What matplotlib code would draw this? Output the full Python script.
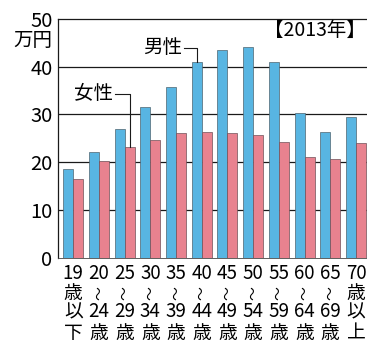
import matplotlib
matplotlib.use("Agg")
import matplotlib.pyplot as plt
import numpy as np

plt.rcParams['font.family'] = ['Noto Sans CJK JP', 'DejaVu Sans']

# Monthly wages by age group (10,000 yen), 2013
age_top = ['19', '20', '25', '30', '35', '40', '45', '50', '55', '60', '65', '70']
age_mid = ['歳', '〜', '〜', '〜', '〜', '〜', '〜', '〜', '〜', '〜', '〜', '歳']
age_low = ['以', '24', '29', '34', '39', '44', '49', '54', '59', '64', '69', '以']
age_end = ['下', '歳', '歳', '歳', '歳', '歳', '歳', '歳', '歳', '歳', '歳', '上']
male = [18.5, 22.1, 26.9, 31.5, 35.8, 41.0, 43.4, 44.1, 41.0, 30.2, 26.4, 29.4]
female = [16.4, 20.2, 23.2, 24.6, 26.0, 26.4, 26.2, 25.7, 24.2, 21.0, 20.6, 24.0]
y_ticks = [0, 10, 20, 30, 40, 50]

BLUE = '#58b5e2'
PINK = '#e8828f'

fig = plt.figure(figsize=(3.67, 3.44), dpi=100)
ax = fig.add_axes([58 / 367, 86.5 / 344, 309 / 367, 238.5 / 344])

x = np.arange(len(age_top))
w = 0.39
ax.bar(x - w / 2, male, width=w, color=BLUE, edgecolor='#4d6470', linewidth=0.5, zorder=3)
ax.bar(x + w / 2, female, width=w, color=PINK, edgecolor='#6e5058', linewidth=0.5, zorder=3)

ax.set_xlim(-0.595, 11.43)
ax.set_ylim(0, 50)

# horizontal rules behind the bars
for v in y_ticks[1:-1]:
    ax.axhline(v, color='#1a1a1a', linewidth=0.9, zorder=1)

ax.set_yticks(y_ticks)
ax.set_yticklabels([str(v) for v in y_ticks], fontsize=14.5)
ax.tick_params(axis='y', length=0, pad=4)
ax.set_xticks([])

for side in ['left', 'top']:
    ax.spines[side].set_linewidth(0.9)
    ax.spines[side].set_color('#1a1a1a')
ax.spines['bottom'].set_linewidth(0.6)
ax.spines['bottom'].set_color('#444444')
ax.spines['right'].set_visible(False)

# unit under the top tick
ax.text(-0.019, 0.91, '万円', transform=ax.transAxes, fontsize=14,
        ha='right', va='center', clip_on=False)

# stacked age labels
xt = ax.get_xaxis_transform()
rows = [(age_top, -0.069), (age_mid, -0.149), (age_low, -0.2285), (age_end, -0.318)]
for labels, yy in rows:
    for i, s in enumerate(labels):
        if s == '〜':
            ax.text(i, yy, s, transform=xt, fontsize=10, ha='center', va='center',
                    rotation=90, clip_on=False)
        else:
            ax.text(i, yy, s, transform=xt, fontsize=13.5, ha='center', va='center',
                    clip_on=False)

# series callouts with leader lines
ax.text(4.23, 44.0, '男性', fontsize=14, ha='right', va='center')
ax.plot([4.31, 5 - w / 2, 5 - w / 2], [44.0, 44.0, male[5]], color='#1a1a1a',
        linewidth=0.8, zorder=4)
ax.text(1.545, 34.3, '女性', fontsize=14, ha='right', va='center')
ax.plot([1.62, 2 + w / 2, 2 + w / 2], [34.3, 34.3, female[2]], color='#1a1a1a',
        linewidth=0.8, zorder=4)

ax.text(11.38, 47.6, '【2013年】', fontsize=14, ha='right', va='center')

fig.savefig('out.png', dpi=100, facecolor='white')
